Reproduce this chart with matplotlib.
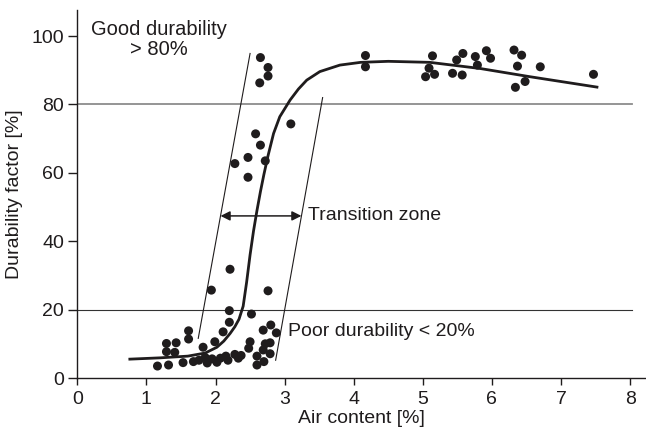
import matplotlib
matplotlib.use("Agg")
import matplotlib.pyplot as plt

plt.rcParams['font.family'] = ['Liberation Sans', 'DejaVu Sans']
plt.rcParams['font.size'] = 14

# measured points: air content [%], durability factor [%]
air_low = [1.16, 1.32, 1.29, 1.43, 1.29, 1.41, 1.61, 1.61, 1.53, 1.68,
           1.82, 1.76, 1.85, 1.88, 1.95, 2.02, 2.07, 2.15, 2.18, 2.28,
           2.33, 2.37, 1.99, 2.11, 2.20, 2.20, 2.52, 1.94, 2.21, 2.76,
           2.50, 2.48, 2.69, 2.80, 2.88, 2.72, 2.79, 2.69, 2.79, 2.60,
           2.70, 2.60]
df_low = [3.5, 3.8, 10.1, 10.3, 7.7, 7.5, 13.8, 11.4, 4.5, 4.8,
          9.0, 5.2, 6.0, 4.4, 5.6, 4.6, 5.8, 6.4, 5.2, 6.9,
          5.8, 6.6, 10.6, 13.5, 16.3, 19.7, 18.7, 25.7, 31.8, 25.5,
          10.6, 8.7, 14.0, 15.5, 13.2, 10.0, 10.3, 8.2, 7.1, 6.4,
          4.8, 3.8]

air_mid = [3.09, 2.58, 2.65, 2.47, 2.28, 2.72, 2.47,
           2.65, 2.76, 2.76, 2.64]
df_mid = [74.3, 71.4, 68.1, 64.5, 62.7, 63.5, 58.7,
          93.7, 90.8, 88.3, 86.3]

air_high = [4.17, 4.17, 5.14, 5.09, 5.04, 5.17, 5.43, 5.57, 5.49, 5.58,
            5.76, 5.79, 5.92, 5.98, 6.32, 6.43, 6.37, 6.70, 6.34, 6.48,
            7.47]
df_high = [94.3, 91.0, 94.2, 90.6, 88.1, 88.8, 89.1, 88.6, 93.0, 94.9,
           94.0, 91.5, 95.7, 93.5, 95.9, 94.4, 91.2, 91.0, 85.0, 86.7,
           88.8]

# fitted trend curve
fit_air = [0.74, 1.2, 1.6, 1.85, 2.02, 2.12, 2.21, 2.28, 2.34, 2.40,
           2.45, 2.50, 2.55, 2.60, 2.65, 2.70, 2.76, 2.84, 2.93, 3.08,
           3.20, 3.32, 3.51, 3.80, 4.10, 4.50, 5.10, 5.83, 6.55, 7.54]
fit_df = [5.5, 5.9, 6.4, 7.3, 9.0, 10.8, 13.0, 15.0, 17.2, 21.0,
          28.0, 36.0, 43.0, 49.0, 54.5, 59.5, 65.0, 71.5, 76.4, 81.3,
          84.5, 87.1, 89.6, 91.5, 92.3, 92.6, 92.3, 90.5, 88.1, 85.0]

# transition zone boundaries
left_edge_air = [1.75, 2.50]
left_edge_df = [11.6, 94.9]
right_edge_air = [2.87, 3.55]
right_edge_df = [5.2, 82.0]

good_limit = 80
poor_limit = 20
zone_level = 47.4

fig = plt.figure(figsize=(6.46, 4.36), dpi=100)
ax = fig.add_axes([0.1197, 0.133, 0.8803, 0.844])

ink = '#1f1c1d'

ax.plot([0, 8.03], [good_limit, good_limit], color='#8c8c8c', lw=1.3, zorder=1)
ax.plot([0, 8.03], [poor_limit, poor_limit], color='#333333', lw=0.8, zorder=1)

ax.plot(left_edge_air, left_edge_df, color=ink, lw=0.8)
ax.plot(right_edge_air, right_edge_df, color=ink, lw=0.8)
ax.plot(fit_air, fit_df, color=ink, lw=2.0, solid_capstyle='butt', zorder=3)

for xs, ys in [(air_low, df_low), (air_mid, df_mid), (air_high, df_high)]:
    ax.scatter(xs, ys, s=42, color=ink, edgecolors='none', zorder=4)

# arrow across the transition zone
x_left = left_edge_air[0] + (zone_level - left_edge_df[0]) / (left_edge_df[1] - left_edge_df[0]) * (left_edge_air[1] - left_edge_air[0])
x_right = right_edge_air[0] + (zone_level - right_edge_df[0]) / (right_edge_df[1] - right_edge_df[0]) * (right_edge_air[1] - right_edge_air[0])
ax.annotate('', xy=(x_left, zone_level), xytext=(x_right, zone_level),
            arrowprops=dict(arrowstyle='<|-|>', color=ink, lw=1.1,
                            mutation_scale=14, shrinkA=0, shrinkB=0))

ax.text(3.34, zone_level, 'Transition zone', color=ink, va='center', ha='left')
ax.text(3.05, 13.5, 'Poor durability < 20%', color=ink, va='center', ha='left')
ax.text(1.18, 99, 'Good durability\n> 80%', color=ink, va='center', ha='center',
        linespacing=1.05, fontsize=14.5)

ax.set_xlim(0, 8.23)
ax.set_ylim(0, 107.6)
ax.set_xticks(range(0, 9))
ax.set_yticks(range(0, 101, 20))
ax.set_xlabel('Air content [%]', color=ink, labelpad=2)
ax.set_ylabel('Durability factor [%]', color=ink, labelpad=6)

for side in ['top', 'right']:
    ax.spines[side].set_visible(False)
for side in ['left', 'bottom']:
    ax.spines[side].set_color(ink)
    ax.spines[side].set_linewidth(1.0)
ax.tick_params(axis='x', direction='out', length=5, width=1.0, colors=ink, pad=4)
ax.tick_params(axis='y', direction='out', length=6.5, width=1.0, colors=ink, pad=3)

fig.savefig('out.png', dpi=100)
